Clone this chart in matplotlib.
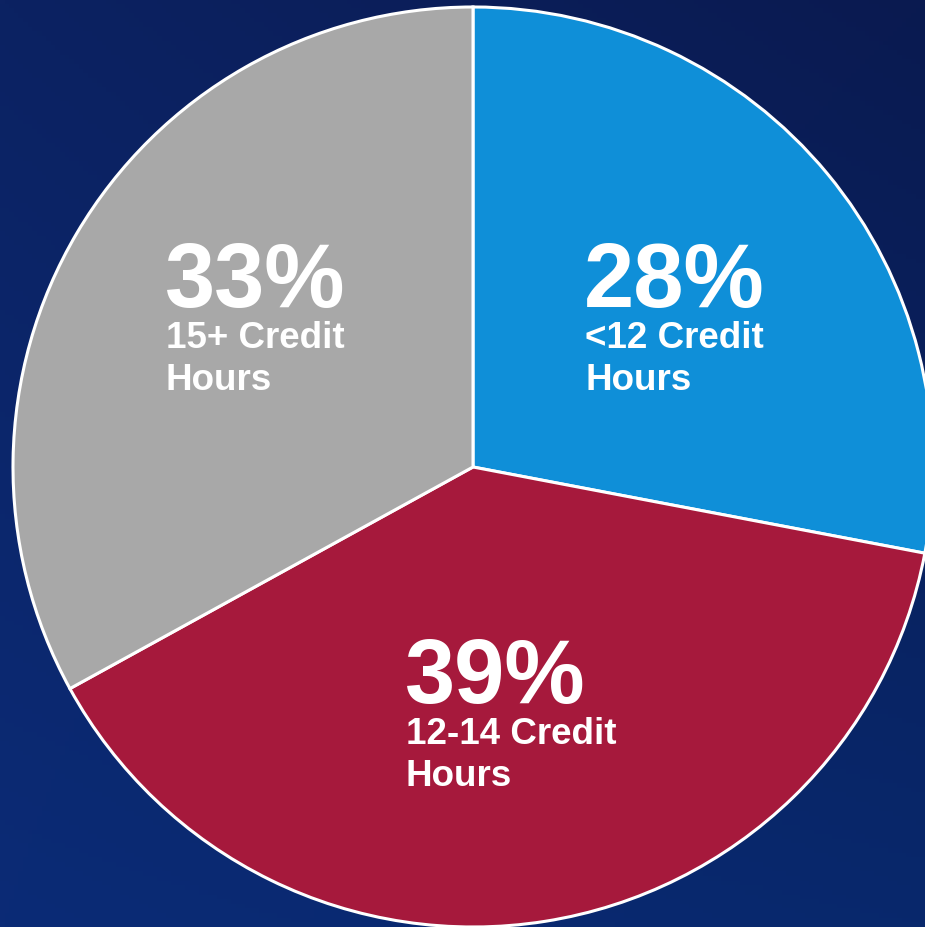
import numpy as np
import matplotlib.pyplot as plt
from matplotlib.colors import to_rgb

# data
labels = ["<12 Credit", "12-14 Credit", "15+ Credit"]
label_line2 = ["Hours", "Hours", "Hours"]
shares = [28, 39, 33]
pct_text = ["28%", "39%", "33%"]
colors = ["#0f8fd8", "#a6193c", "#a8a8a8"]

# label anchors (left edge, baseline of the big number) in pixels from top-left
label_x = [584, 405, 165]
label_y = [307, 703, 307]

W, H = 925, 928
cx, cy, R = 473, 468, 460

fig = plt.figure(figsize=(W / 100, H / 100), dpi=100)
ax = fig.add_axes([0, 0, 1, 1])

# background gradient, four corners blended
tl, tr = np.array(to_rgb("#0c2262")), np.array(to_rgb("#0a1a50"))
bl, br = np.array(to_rgb("#0b2b76")), np.array(to_rgb("#08286c"))
u = np.linspace(0, 1, 200)[None, :, None]
v = np.linspace(0, 1, 200)[:, None, None]
grad = (1 - v) * ((1 - u) * tl + u * tr) + v * ((1 - u) * bl + u * br)
ax.imshow(grad, extent=[0, W, 0, H], origin="upper", aspect="auto", zorder=0)

ax.pie(shares, colors=colors, startangle=90, counterclock=False,
       center=(cx, H - cy), radius=R, frame=True,
       wedgeprops=dict(edgecolor="white", linewidth=2.2))
ax.set_xlim(0, W)
ax.set_ylim(0, H)
ax.set_aspect("auto")
ax.axis("off")

font = ["Liberation Sans", "DejaVu Sans"]
for p, l1, l2, x, y in zip(pct_text, labels, label_line2, label_x, label_y):
    ax.text(x, H - y, p, color="white", fontsize=65, fontweight="bold",
            family=font, ha="left", va="baseline", zorder=5)
    ax.text(x + 1, H - y - 41, l1, color="white", fontsize=26.5, fontweight="bold",
            family=font, ha="left", va="baseline", zorder=5)
    ax.text(x + 1, H - y - 83, l2, color="white", fontsize=26.5, fontweight="bold",
            family=font, ha="left", va="baseline", zorder=5)

fig.savefig("out.png", dpi=100)
